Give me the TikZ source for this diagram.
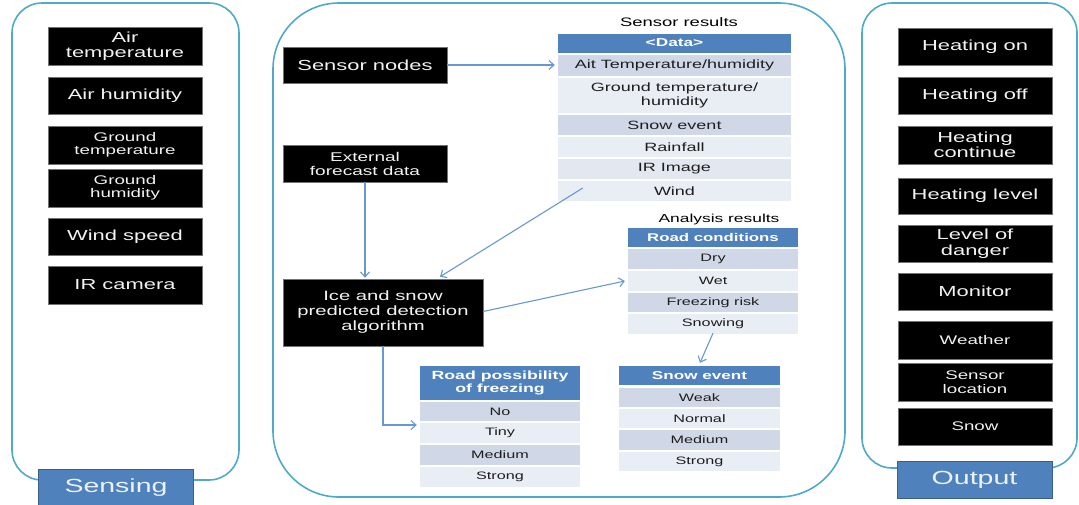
\documentclass[tikz,border=0pt]{standalone}
\usepackage{fontspec}
\setmainfont{Liberation Sans}[FakeStretch=1.5]
\usetikzlibrary{arrows.meta,calc}

\definecolor{panelc}{RGB}{78,170,200}
\definecolor{labelfill}{RGB}{79,129,189}
\definecolor{labeldraw}{RGB}{58,96,142}
\definecolor{labeltext}{RGB}{236,242,250}
\definecolor{hdr}{RGB}{79,129,189}
\definecolor{rowd}{RGB}{208,216,232}
\definecolor{rowl}{RGB}{233,237,244}
\definecolor{rowm}{RGB}{226,231,240}
\definecolor{arrowc}{RGB}{104,152,212}
\definecolor{celltext}{RGB}{30,30,30}

\newcommand\setfs[2]{\fontsize{#1}{#2}\selectfont}

\begin{document}
\begin{tikzpicture}[x=1pt,y=-1pt,
  panelline/.style={draw=panelc, line width=1.6pt},
  labelbox/.style={fill=labelfill, draw=labeldraw, line width=0.8pt, text=labeltext,
    inner sep=0pt, minimum width=155pt, minimum height=37pt, font=\setfs{19}{20}},
  blk/.style={fill=black, draw=black!55, line width=0.5pt, text=white!95!black,
    align=center, inner sep=0pt, minimum width=154pt, minimum height=37pt},
  bigtxt/.style={font=\setfs{14.6}{15.5}},
  smalltxt/.style={font=\setfs{12.5}{13.5}},
  cell/.style={inner sep=0pt, align=center, text=celltext},
  thead/.style={cell, fill=hdr, text=white, font=\bfseries\setfs{11.5}{12.5}},
  dk/.style={fill=rowd}, lt/.style={fill=rowl},
  arr/.style={draw=arrowc, line width=1.1pt, -{Straight Barb[length=5pt,width=9pt,line width=1.1pt]}}
]
\useasboundingbox (0,0) rectangle (1079,504);

% ---------- panels ----------
\draw[panelline, rounded corners=30pt] (12,3) rectangle (239,480);
\draw[panelline, rounded corners=66pt] (273,3) rectangle (845,497);
\draw[panelline, rounded corners=30pt] (862,3) rectangle (1077,468);

\node[labelbox] (sensing) at (116,488) {Sensing};
\node[labelbox] (output) at (974.5,480) {Output};

% ---------- sensing ----------
\node[blk, bigtxt, minimum height=38pt] (airT) at (125,46) {Air\\temperature};
\node[blk, bigtxt] (airH) at (125,95.5) {Air humidity};
\node[blk, smalltxt, minimum height=38pt] (gT) at (125,145) {Ground\\temperature};
\node[blk, smalltxt, minimum height=38pt] (gH) at (125,188) {Ground\\humidity};
\node[blk, bigtxt] (wind) at (125,236.5) {Wind speed};
\node[blk, bigtxt, minimum height=38pt] (ir) at (125,285) {IR camera};

% ---------- output ----------
\node[blk, bigtxt] (hon) at (975,46.5) {Heating on};
\node[blk, bigtxt] (hoff) at (975,95.5) {Heating off};
\node[blk, bigtxt, minimum height=38pt] (hcont) at (975,145) {Heating\\continue};
\node[blk, bigtxt, minimum height=36pt] (hlev) at (975,196) {Heating level};
\node[blk, bigtxt] (danger) at (975,243.5) {Level of\\danger};
\node[blk, bigtxt] (monitor) at (975,291.5) {Monitor};
\node[blk, smalltxt, minimum height=38pt] (weather) at (975,340) {Weather};
\node[blk, smalltxt, minimum height=38pt] (sloc) at (975,382) {Sensor\\location};
\node[blk, smalltxt] (snowout) at (975,426.5) {Snow};

% ---------- processing ----------
\node[blk, bigtxt, minimum width=164pt, minimum height=36pt] (sn) at (365,65) {Sensor nodes};
\node[blk, font=\setfs{12.7}{14}, minimum width=164pt] (ext) at (365,163.5) {External\\forecast data};
\node[blk, font=\setfs{13.5}{15}, minimum width=200pt, minimum height=67pt] (alg) at (383,312.5)
  {Ice and snow\\predicted detection\\algorithm};

% sensor results table
\node[font=\setfs{12.3}{13}] (srtitle) at (679,22) {Sensor results};
\begin{scope}[every node/.append style={minimum width=233pt, font=\setfs{12}{13.5}}]
  \node[thead, minimum height=19pt] (shead) at (674.5,43) {<Data>};
  \node[cell, dk, minimum height=21pt] (r1) at (674.5,65.5) {Ait Temperature/humidity};
  \node[cell, lt, minimum height=35pt] (r2) at (674.5,95.5) {Ground temperature/\\humidity};
  \node[cell, dk, minimum height=20pt] (r3) at (674.5,125) {Snow event};
  \node[cell, lt, minimum height=20pt] (r4) at (674.5,147) {Rainfall};
  \node[cell, fill=rowm, minimum height=20pt] (r5) at (674.5,169) {IR Image};
  \node[cell, lt, minimum height=20pt] (r6) at (674.5,191) {Wind};
\end{scope}

% analysis results
\node[font=\setfs{11.6}{12.5}] (artitle) at (719,219) {Analysis results};
\begin{scope}[every node/.append style={minimum width=170pt, font=\setfs{10.8}{12}}]
  \node[thead, minimum height=19pt, font=\bfseries\setfs{11.2}{12}] (rchead) at (713,237.5) {Road conditions};
  \node[cell, dk, minimum height=20pt] (dry) at (713,259) {Dry};
  \node[cell, lt, minimum height=20pt] (wet) at (713,281) {Wet};
  \node[cell, dk, minimum height=19pt] (freeze) at (713,302.5) {Freezing risk};
  \node[cell, lt, minimum height=20pt] (snowing) at (713,324) {Snowing};
\end{scope}

% road possibility of freezing
\begin{scope}[every node/.append style={minimum width=160pt, font=\setfs{10.8}{12}}]
  \node[thead, minimum height=34pt, font=\bfseries\setfs{11.8}{13}] (rphead) at (500,383) {Road possibility\\of freezing};
  \node[cell, dk, minimum height=19pt] (pno) at (500,411.5) {No};
  \node[cell, lt, minimum height=20pt] (ptiny) at (500,433) {Tiny};
  \node[cell, dk, minimum height=20pt] (pmed) at (500,455) {Medium};
  \node[cell, lt, minimum height=20pt] (pstrong) at (500,477) {Strong};
\end{scope}

% snow event
\begin{scope}[every node/.append style={minimum width=161pt, font=\setfs{10.8}{12}}]
  \node[thead, minimum height=19pt, font=\bfseries\setfs{11.4}{12}] (sehead) at (699.5,375.5) {Snow event};
  \node[cell, dk, minimum height=19pt] (sweak) at (699.5,397.5) {Weak};
  \node[cell, lt, minimum height=19pt] (snormal) at (699.5,418.5) {Normal};
  \node[cell, dk, minimum height=20pt] (smed) at (699.5,440) {Medium};
  \node[cell, lt, minimum height=19pt] (sstrong) at (699.5,461.5) {Strong};
\end{scope}

% ---------- connectors ----------
\draw[arr] (sn.east) -- ($(sn.east -| r1.west)+(-3,0)$);
\coordinate (wsrc) at ($(r6.west)+(25,-3)$);
\draw[arr] (wsrc) -- ($(alg.north)+(57,-2)$);
\draw[arr] (ext.south) -- ($(ext.south |- alg.north)+(0,-1)$);
\draw[arr] ($(alg.east)+(0,-1)$) -- ($(wet.west)+(-3,0)$);
\draw[arr] (alg.south) |- ($(ptiny.west)+(-3,-8)$);
\coordinate (snsrc) at ($(snowing.south)+(0,-1)$);
\draw[arr] (snsrc) -- ($(sehead.north)+(0.5,-3)$);
\end{tikzpicture}
\end{document}
